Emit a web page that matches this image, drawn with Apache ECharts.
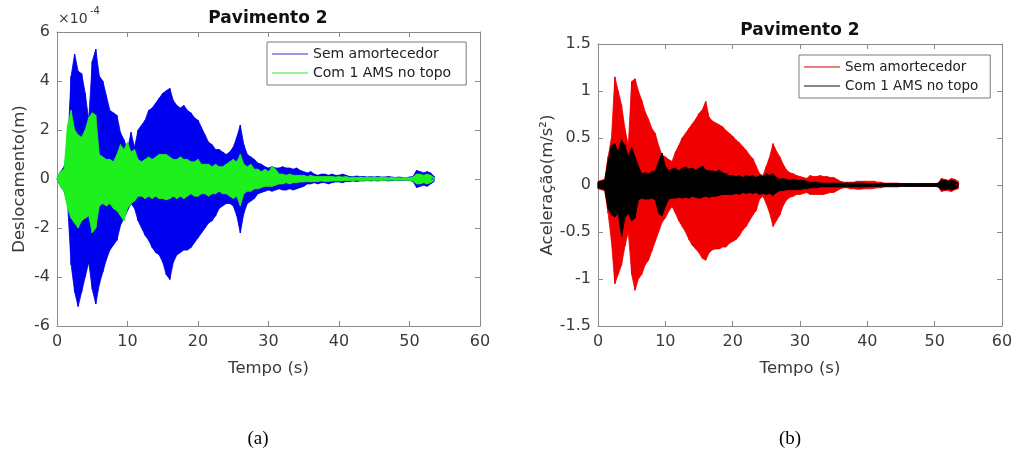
<!DOCTYPE html>
<html>
<head>
<meta charset="utf-8">
<script src="https://cdn.jsdelivr.net/npm/echarts@6/dist/echarts.min.js"></script>
<style>
  html, body { margin: 0; padding: 0; background: #fff; }
  #chart { width: 1017px; height: 453px; }
</style>
</head>
<body>
<div id="chart"></div>
<script>
// sample times (s), one reading every 0.5 s
const tempo = [
  0, 0.5, 1, 1.5, 2, 2.5, 3, 3.5, 4, 4.5,
  5, 5.5, 6, 6.5, 7, 7.5, 8, 8.5, 9, 9.5,
  10, 10.5, 11, 11.5, 12, 12.5, 13, 13.5, 14, 14.5,
  15, 15.5, 16, 16.5, 17, 17.5, 18, 18.5, 19, 19.5,
  20, 20.5, 21, 21.5, 22, 22.5, 23, 23.5, 24, 24.5,
  25, 25.5, 26, 26.5, 27, 27.5, 28, 28.5, 29, 29.5,
  30, 30.5, 31, 31.5, 32, 32.5, 33, 33.5, 34, 34.5,
  35, 35.5, 36, 36.5, 37, 37.5, 38, 38.5, 39, 39.5,
  40, 40.5, 41, 41.5, 42, 42.5, 43, 43.5, 44, 44.5,
  45, 45.5, 46, 46.5, 47, 47.5, 48, 48.5, 49, 49.5,
  50, 50.5, 51, 51.5, 52, 52.5, 53, 53.5
];

// deslocamento (x1e-4 m): max / min (a)
const semDeslMax = [
  0, 0.3, 0.5, 1.2, 4.2, 5.1, 4.4, 4.3, 3.5, 2.4,
  4.8, 5.3, 4.2, 4.0, 3.4, 2.8, 2.7, 2.6, 1.9, 1.6,
  1.2, 1.9, 1.3, 2.0, 2.2, 2.4, 2.8, 2.9, 3.1, 3.3,
  3.5, 3.6, 3.7, 3.2, 3.0, 2.9, 3.0, 2.8, 2.7, 2.5,
  2.4, 2.1, 1.8, 1.5, 1.4, 1.2, 1.2, 1.1, 1.0, 1.1,
  1.3, 1.7, 2.2, 1.4, 1.0, 0.9, 0.8, 0.65, 0.6, 0.5,
  0.45, 0.5, 0.45, 0.45, 0.5, 0.45, 0.45, 0.4, 0.45, 0.35,
  0.3, 0.25, 0.3, 0.2, 0.15, 0.2, 0.2, 0.15, 0.2, 0.15,
  0.15, 0.2, 0.15, 0.1, 0.1, 0.12, 0.1, 0.1, 0.08, 0.1,
  0.08, 0.1, 0.08, 0.08, 0.1, 0.08, 0.06, 0.08, 0.06, 0.05,
  0.08, 0.1, 0.35, 0.3, 0.25, 0.3, 0.25, 0.1
];
const semDeslMin = [
  0, -0.3, -0.5, -1.0, -3.5, -4.6, -5.2, -4.6, -4.0, -3.4,
  -4.5, -5.1, -4.3, -3.8, -3.3, -2.9, -2.7, -2.5, -1.9, -1.6,
  -1.3, -1.0, -1.2, -1.7, -2.0, -2.3, -2.5, -2.8, -3.0, -3.1,
  -3.4, -3.9, -4.1, -3.4, -3.1, -3.0, -2.9, -2.9, -2.8, -2.6,
  -2.4, -2.2, -2.0, -1.8, -1.7, -1.5, -1.2, -1.1, -1.0, -1.0,
  -1.1, -1.5, -2.2, -1.4, -1.0, -0.9, -0.8, -0.6, -0.55, -0.5,
  -0.45, -0.5, -0.45, -0.4, -0.45, -0.45, -0.4, -0.45, -0.4, -0.35,
  -0.3, -0.2, -0.2, -0.15, -0.2, -0.15, -0.15, -0.2, -0.15, -0.12,
  -0.12, -0.15, -0.1, -0.1, -0.08, -0.1, -0.08, -0.08, -0.06, -0.08,
  -0.06, -0.08, -0.06, -0.06, -0.08, -0.06, -0.05, -0.06, -0.05, -0.05,
  -0.06, -0.1, -0.35, -0.3, -0.25, -0.3, -0.2, -0.1
];
const amsDeslMax = [
  0, 0.3, 0.4, 2.2, 2.8, 2.0, 1.8, 1.7, 2.0, 2.5,
  2.7, 2.6, 1.0, 0.9, 0.8, 0.8, 0.7, 1.0, 1.4, 1.2,
  1.5, 1.1, 1.2, 0.8, 0.7, 0.8, 0.9, 0.8, 0.9, 1.0,
  1.0, 1.0, 0.9, 0.8, 0.8, 0.9, 0.8, 0.8, 0.7, 0.7,
  0.8, 0.6, 0.6, 0.6, 0.5, 0.6, 0.5, 0.5, 0.6, 0.7,
  0.8, 0.7, 1.0, 0.6, 0.5, 0.6, 0.4, 0.4, 0.3, 0.4,
  0.3, 0.5, 0.4, 0.2, 0.2, 0.15, 0.2, 0.15, 0.15, 0.15,
  0.15, 0.1, 0.15, 0.1, 0.1, 0.1, 0.1, 0.1, 0.1, 0.08,
  0.1, 0.08, 0.1, 0.06, 0.08, 0.06, 0.08, 0.06, 0.06, 0.08,
  0.06, 0.06, 0.08, 0.06, 0.05, 0.06, 0.05, 0.05, 0.04, 0.05,
  0.05, 0.08, 0.2, 0.2, 0.15, 0.2, 0.15, 0.05
];
const amsDeslMin = [
  0, -0.3, -0.5, -1.2, -1.6, -1.8, -2.0, -1.7, -1.6, -1.5,
  -2.2, -2.0, -1.1, -1.0, -1.1, -1.0, -1.2, -1.3, -1.5, -1.7,
  -1.2, -1.0, -0.9, -0.7, -0.7, -0.8, -0.7, -0.8, -0.7, -0.8,
  -0.8, -0.85, -0.8, -0.7, -0.8, -0.7, -0.8, -0.7, -0.6, -0.7,
  -0.7, -0.6, -0.6, -0.7, -0.6, -0.6, -0.5, -0.6, -0.6, -0.7,
  -0.8, -0.7, -1.1, -0.6, -0.5, -0.5, -0.4, -0.4, -0.35, -0.3,
  -0.3, -0.3, -0.25, -0.2, -0.2, -0.15, -0.2, -0.15, -0.15, -0.12,
  -0.12, -0.1, -0.12, -0.1, -0.1, -0.08, -0.1, -0.1, -0.08, -0.08,
  -0.08, -0.08, -0.06, -0.06, -0.06, -0.05, -0.06, -0.06, -0.05, -0.05,
  -0.05, -0.05, -0.06, -0.05, -0.05, -0.04, -0.05, -0.05, -0.04, -0.05,
  -0.05, -0.08, -0.2, -0.2, -0.15, -0.2, -0.15, -0.05
];

// aceleracao (m/s2): max / min (b)
const semAcelMax = [
  0.04, 0.05, 0.06, 0.3, 0.5, 1.15, 1.0, 0.85, 0.6, 0.42,
  1.1, 1.13, 1.0, 0.9, 0.78, 0.7, 0.6, 0.55, 0.42, 0.32,
  0.3, 0.27, 0.25, 0.35, 0.42, 0.5, 0.55, 0.6, 0.65, 0.7,
  0.76, 0.8, 0.89, 0.72, 0.68, 0.66, 0.64, 0.62, 0.58, 0.55,
  0.52, 0.48, 0.45, 0.41, 0.37, 0.32, 0.28, 0.2, 0.12, 0.1,
  0.2, 0.3, 0.44, 0.36, 0.3, 0.22, 0.16, 0.13, 0.12, 0.1,
  0.09, 0.08, 0.07, 0.1, 0.09, 0.09, 0.1, 0.09, 0.09, 0.08,
  0.08, 0.06, 0.04, 0.03, 0.03, 0.03, 0.03, 0.04, 0.04, 0.04,
  0.04, 0.04, 0.04, 0.03, 0.03, 0.02, 0.02, 0.02, 0.02, 0.02,
  0.015, 0.015, 0.015, 0.015, 0.015, 0.015, 0.015, 0.015, 0.015, 0.015,
  0.015, 0.015, 0.07, 0.06, 0.05, 0.07, 0.06, 0.04
];
const semAcelMin = [
  -0.04, -0.05, -0.06, -0.3, -0.6, -1.05, -0.95, -0.85, -0.65, -0.5,
  -0.95, -1.12, -1.0, -0.95, -0.85, -0.8, -0.7, -0.6, -0.5, -0.4,
  -0.35, -0.28, -0.23, -0.3, -0.38, -0.44, -0.5, -0.58, -0.64, -0.68,
  -0.72, -0.78, -0.8, -0.72, -0.69, -0.68, -0.68, -0.66, -0.66, -0.62,
  -0.6, -0.58, -0.54, -0.48, -0.44, -0.38, -0.32, -0.27, -0.15, -0.12,
  -0.2, -0.3, -0.44, -0.38, -0.32, -0.22, -0.16, -0.13, -0.12, -0.1,
  -0.1, -0.09, -0.08, -0.1, -0.1, -0.1, -0.1, -0.1, -0.09, -0.08,
  -0.08, -0.06, -0.04, -0.03, -0.03, -0.04, -0.04, -0.045, -0.045, -0.04,
  -0.04, -0.04, -0.035, -0.03, -0.03, -0.02, -0.02, -0.02, -0.02, -0.02,
  -0.015, -0.015, -0.015, -0.015, -0.015, -0.015, -0.015, -0.015, -0.015, -0.015,
  -0.015, -0.015, -0.07, -0.06, -0.06, -0.07, -0.05, -0.04
];
const amsAcelMax = [
  0.03, 0.04, 0.05, 0.25, 0.42, 0.44, 0.35, 0.48, 0.42, 0.3,
  0.4, 0.3, 0.2, 0.12, 0.13, 0.12, 0.14, 0.15, 0.25, 0.34,
  0.2, 0.15, 0.17, 0.18, 0.15, 0.18, 0.19, 0.17, 0.18, 0.16,
  0.18, 0.2, 0.16, 0.15, 0.15, 0.14, 0.16, 0.13, 0.12, 0.1,
  0.1, 0.09, 0.1, 0.08, 0.1, 0.09, 0.1, 0.08, 0.1, 0.09,
  0.12, 0.1, 0.12, 0.08, 0.06, 0.07, 0.06, 0.05, 0.06, 0.05,
  0.05, 0.05, 0.04, 0.03, 0.03, 0.03, 0.02, 0.02, 0.02, 0.02,
  0.02, 0.02, 0.02, 0.02, 0.02, 0.02, 0.02, 0.02, 0.02, 0.02,
  0.015, 0.015, 0.015, 0.015, 0.015, 0.015, 0.015, 0.015, 0.015, 0.015,
  0.015, 0.015, 0.015, 0.015, 0.015, 0.015, 0.015, 0.015, 0.015, 0.015,
  0.015, 0.02, 0.05, 0.05, 0.04, 0.05, 0.04, 0.02
];
const amsAcelMin = [
  -0.03, -0.04, -0.05, -0.25, -0.32, -0.34, -0.3, -0.55, -0.35, -0.3,
  -0.38, -0.35, -0.16, -0.14, -0.15, -0.15, -0.14, -0.16, -0.3, -0.33,
  -0.23, -0.15, -0.14, -0.14, -0.13, -0.14, -0.13, -0.14, -0.12, -0.13,
  -0.14, -0.13, -0.12, -0.13, -0.12, -0.12, -0.11, -0.1, -0.1, -0.1,
  -0.1, -0.09, -0.1, -0.08, -0.09, -0.08, -0.09, -0.08, -0.1, -0.09,
  -0.1, -0.09, -0.11, -0.08, -0.06, -0.06, -0.05, -0.05, -0.05, -0.05,
  -0.05, -0.04, -0.04, -0.03, -0.03, -0.03, -0.02, -0.02, -0.02, -0.02,
  -0.02, -0.02, -0.02, -0.02, -0.02, -0.02, -0.02, -0.02, -0.02, -0.02,
  -0.015, -0.015, -0.015, -0.015, -0.015, -0.015, -0.015, -0.015, -0.015, -0.015,
  -0.015, -0.015, -0.015, -0.015, -0.015, -0.015, -0.015, -0.015, -0.015, -0.015,
  -0.015, -0.02, -0.05, -0.05, -0.04, -0.05, -0.04, -0.02
];

const FONT = 'DejaVu Sans';
const AXIS_GREY = '#8a8a8a';
const TXT = '#3a3a3a';

// max/min pairs at each time -> vertical strokes joined in a zigzag
function zigzag(hi, lo) {
  const pts = [];
  tempo.forEach((t, i) => {
    pts.push([t, hi[i]]);
    pts.push([t, lo[i]]);
  });
  return pts;
}
function env(arr) {
  return tempo.map((t, i) => [t, arr[i]]);
}

// one signal = filled band (max and min areas to zero) + zigzag stroke
function band(name, hi, lo, color, gi, z) {
  const base = {
    type: 'line', xAxisIndex: gi * 2, yAxisIndex: gi * 2, z: z,
    symbol: 'none', silent: true, animation: false,
    lineStyle: { color: color, width: 0.8 },
    areaStyle: { color: color, opacity: 1, origin: 0 }
  };
  return [
    Object.assign({}, base, { name: name + '_hi', data: env(hi) }),
    Object.assign({}, base, { name: name + '_lo', data: env(lo) }),
    {
      type: 'line', name: name, xAxisIndex: gi * 2, yAxisIndex: gi * 2, z: z,
      symbol: 'none', animation: false,
      lineStyle: { color: color, width: 1 },
      itemStyle: { color: color },
      data: zigzag(hi, lo)
    }
  ];
}

const axisLine = { show: true, onZero: false, lineStyle: { color: AXIS_GREY, width: 1 } };
const axisTick = { show: true, inside: true, length: 5, lineStyle: { color: AXIS_GREY } };

function xAxes(gi, title) {
  return [{
    gridIndex: gi, type: 'value', min: 0, max: 60, interval: 10,
    axisLine: axisLine, axisTick: axisTick,
    axisLabel: { color: TXT, fontFamily: FONT, fontSize: 16, margin: 8 },
    splitLine: { show: false },
    name: title, nameLocation: 'middle', nameGap: 34,
    nameTextStyle: { color: TXT, fontFamily: FONT, fontSize: 16.5 }
  }, {
    gridIndex: gi, type: 'value', min: 0, max: 60, interval: 10, position: 'top',
    axisLine: axisLine, axisTick: axisTick,
    axisLabel: { show: false }, splitLine: { show: false }
  }];
}

function yAxes(gi, min, max, step, title, gap) {
  return [{
    gridIndex: gi, type: 'value', min: min, max: max, interval: step,
    axisLine: axisLine, axisTick: axisTick,
    axisLabel: { color: TXT, fontFamily: FONT, fontSize: 16, margin: 7 },
    splitLine: { show: false },
    name: title, nameLocation: 'middle', nameGap: gap,
    nameTextStyle: { color: TXT, fontFamily: FONT, fontSize: 16.5 }
  }, {
    gridIndex: gi, type: 'value', min: min, max: max, interval: step, position: 'right',
    axisLine: axisLine, axisTick: axisTick,
    axisLabel: { show: false }, splitLine: { show: false }
  }];
}

function legendFor(x, y, names, colors, fs, padRight) {
  return {
    orient: 'vertical', left: x, top: y,
    padding: [5, padRight, 5, 5], itemGap: 5,
    itemWidth: 36, itemHeight: 14,
    borderColor: '#7a7a7a', borderWidth: 1, backgroundColor: '#fff',
    selectedMode: false,
    textStyle: { color: '#222', fontFamily: FONT, fontSize: fs },
    data: names.map((n, i) => ({
      name: n, icon: 'path://M0,6.5 L36,6.5 L36,7.5 L0,7.5 Z',
      itemStyle: { color: colors[i] }
    }))
  };
}

const chart = echarts.init(document.getElementById('chart'), null, { renderer: 'canvas' });

const option = {
  backgroundColor: '#fff',
  animation: false,
  grid: [
    { left: 57, top: 32, width: 423, height: 294 },
    { left: 598, top: 44, width: 404, height: 282 }
  ],
  xAxis: [].concat(xAxes(0, 'Tempo (s)'), xAxes(1, 'Tempo (s)')),
  yAxis: [].concat(
    yAxes(0, -6, 6, 2, 'Deslocamento(m)', 29),
    yAxes(1, -1.5, 1.5, 0.5, 'Aceleração(m/s²)', 42)
  ),
  legend: [
    legendFor(267, 42, ['Sem amortecedor', 'Com 1 AMS no topo'], ['#3434c8', '#33e633'], 14, 15),
    legendFor(799, 55, ['Sem amortecedor', 'Com 1 AMS no topo'], ['#e00000', '#111111'], 13.5, 12)
  ],
  series: [].concat(
    band('Sem amortecedor', semDeslMax, semDeslMin, '#0000f0', 0, 2),
    band('Com 1 AMS no topo', amsDeslMax, amsDeslMin, '#1ef01e', 0, 3),
    band('Sem amortecedor', semAcelMax, semAcelMin, '#f00000', 1, 2),
    band('Com 1 AMS no topo', amsAcelMax, amsAcelMin, '#000000', 1, 3)
  ),
  graphic: [
    { type: 'text', x: 268, y: 10, style: { text: 'Pavimento 2', fill: '#111',
      font: 'bold 17px "DejaVu Sans"', textAlign: 'center' } },
    { type: 'text', x: 800, y: 22, style: { text: 'Pavimento 2', fill: '#111',
      font: 'bold 17px "DejaVu Sans"', textAlign: 'center' } },
    { type: 'text', x: 58, y: 12, style: { text: '×10', fill: TXT,
      font: '14px "DejaVu Sans"' } },
    { type: 'text', x: 90, y: 6, style: { text: '-4', fill: TXT,
      font: '10px "DejaVu Sans"' } },
    { type: 'text', x: 258, y: 430, style: { text: '(a)', fill: '#000',
      font: '19px "Liberation Serif"', textAlign: 'center' } },
    { type: 'text', x: 790, y: 430, style: { text: '(b)', fill: '#000',
      font: '19px "Liberation Serif"', textAlign: 'center' } }
  ]
};

chart.setOption(option);
</script>
</body>
</html>
